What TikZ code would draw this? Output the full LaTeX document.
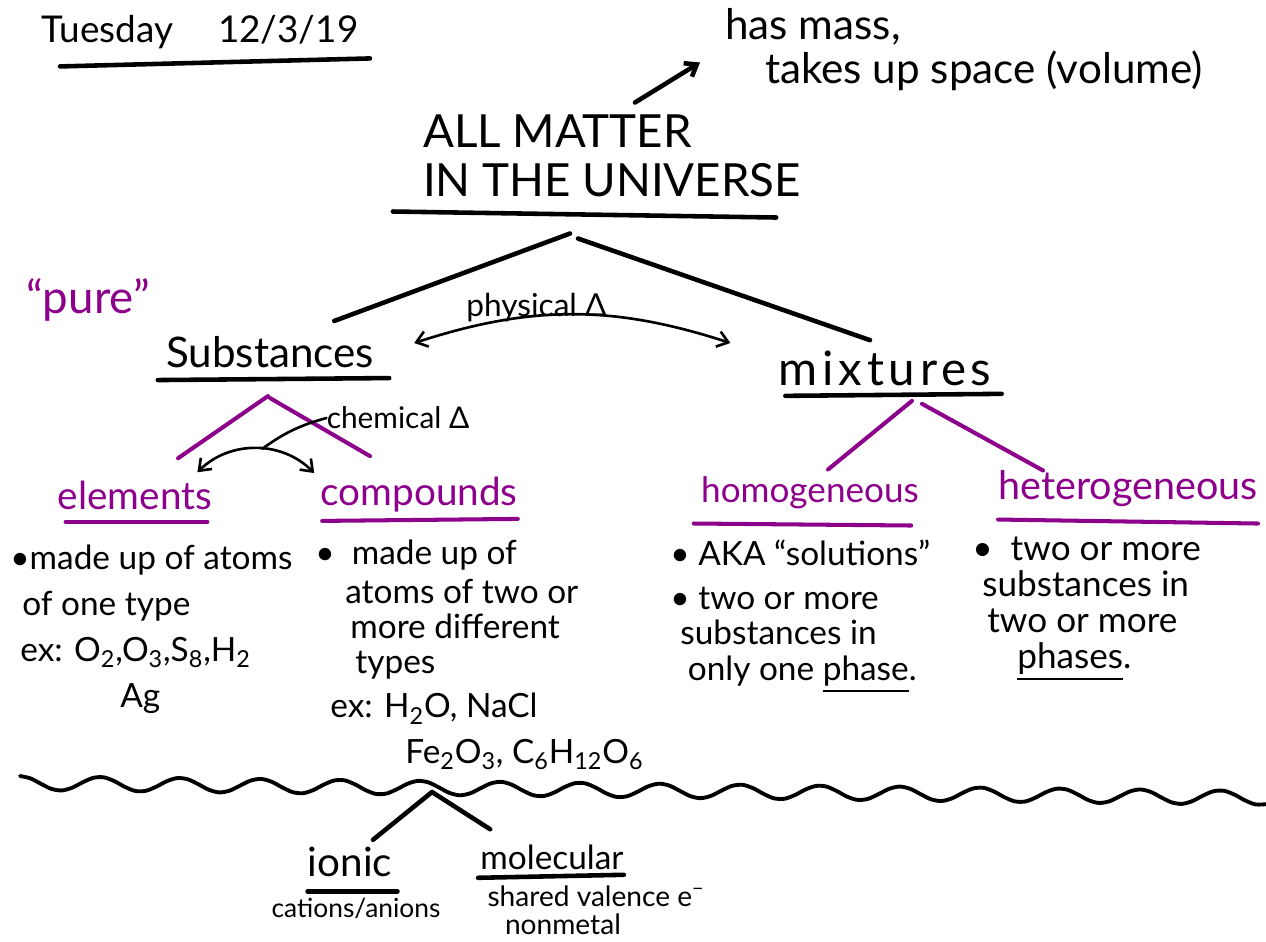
\documentclass[tikz,border=0pt]{standalone}
\usepackage{fontspec}
\setmainfont{Lato}
\usetikzlibrary{arrows.meta,positioning}
\definecolor{plum}{RGB}{140,0,140}
\newcommand{\penline}[1]{\setbox0\hbox{#1}\rlap{\rule[-7pt]{\wd0}{1.6pt}}\box0}
\begin{document}
\begin{tikzpicture}
[x=0.02cm,y=-0.02cm,
 ink/.style={line width=2.6pt,line cap=round,line join=round},
 purp/.style={ink,draw=plum,line width=2.3pt},
 pen/.style={line width=1.5pt,line cap=round},
 dar/.style={pen,{Straight Barb[length=6pt,width=9pt]}-{Straight Barb[length=6pt,width=9pt]}},
 sar/.style={ink,-{Straight Barb[length=6pt,width=9pt]}},
 txt/.style={inner sep=0pt,align=left},
 big/.style={txt,font=\fontsize{26}{28}\selectfont},
 head/.style={txt,font=\fontsize{24}{28}\selectfont},
 sub/.style={txt,text=plum,font=\fontsize{22}{26}\selectfont},
 body/.style={txt,anchor=north west,font=\fontsize{19}{20}\selectfont},
 note/.style={txt,font=\fontsize{18}{20}\selectfont}]
\useasboundingbox (0,0) rectangle (1266,941);

% heading
\node [head,font=\fontsize{21}{24}\selectfont] (day) at (200,32) {Tuesday\hspace{0.9cm}12/3/19};
\draw [ink] ([shift={(-140,24)}]day.base) -- ([shift={(170,16)}]day.base);

\node [big] (univ) at (612,156) {ALL MATTER\\IN THE UNIVERSE};
\draw [ink] ([shift={(-30,14)}]univ.south west) -- ([shift={(-25,20)}]univ.south east);
\node [txt,anchor=north west,font=\fontsize{24}{26}\selectfont] (mass) at (725,8) {has mass,\\[-1pt]\hspace*{0.8cm}takes up space (volume)};
\draw [sar] ([shift={(23,-12)}]univ.north) -- ([shift={(-25,13)}]mass.west);

% first split
\node [head] (subst) at (270,352) {Substances};
\node [head,font=\fontsize{27}{28}\selectfont] (mix) at (885,368) {\addfontfeature{LetterSpace=10}mixtures};
\node [txt,text=plum,font=\fontsize{26}{28}\selectfont] (pure) at (88,300) {“pure”};
\draw [ink] ([shift={(-42,36)}]univ.south) -- ([shift={(-40,-15)}]subst.north east);
\draw [ink] ([shift={(-34,41)}]univ.south) -- ([shift={(-15,-10)}]mix.north);
\draw [ink] ([shift={(-8,12)}]subst.south west) -- ([shift={(15,10)}]subst.south east);
\draw [ink] ([shift={(7,10)}]mix.south west) -- ([shift={(10,8)}]mix.south east);
\draw [dar] ([shift={(40,-9)}]subst.east) to [bend left=18]
  node [note,pos=0.38,above=-4pt] (phys) {physical Δ} ([shift={(-48,-25)}]mix.west);

% pure substances
\node [sub] (elem) at (135,495) {elements};
\node [sub] (comp) at (419,495) {compounds};
\draw [purp] ([shift={(-2,28)}]subst.south) -- ([shift={(43,-22)}]elem.north);
\draw [purp] ([shift={(0,30)}]subst.south) -- ([shift={(-49,-21)}]comp.north);
\draw [purp] ([shift={(8,12)}]elem.south west) -- ([shift={(-5,12)}]elem.south east);
\draw [purp] ([shift={(2,8)}]comp.south west) -- ([shift={(0,6)}]comp.south east);
\draw [dar] ([shift={(-15,-8)}]elem.north east) to [bend left=45]
  coordinate [pos=0.55] (chemmid) ([shift={(-6,-4)}]comp.north west);
\node [note,font=\fontsize{17}{20}\selectfont] (chem) at (398,418) {chemical Δ};
\draw [pen] (chem.west) to [bend right=10] (chemmid);

% mixtures
\node [sub,font=\fontsize{20}{26}\selectfont] (homo) at (810,493) {homogeneous};
\node [sub,font=\fontsize{22.5}{26}\selectfont] (hetero) at (1128,489) {heterogeneous};
\draw [purp] ([shift={(27,15)}]mix.south) -- ([shift={(18,-7)}]homo.north);
\draw [purp] ([shift={(37,18)}]mix.south) -- ([shift={(45,0)}]hetero.north west);
\draw [purp] ([shift={(-7,14)}]homo.south west) -- ([shift={(-8,16)}]homo.south east);
\draw [purp] ([shift={(0,12)}]hetero.south west) -- ([shift={(0,16)}]hetero.south east);

% notes
\node [body] (elemtxt) at (10,545) {\textbullet made up of atoms\\[6pt]
  \hspace*{0.24cm}of one type\\[6pt]
  \hspace*{0.2cm}ex: O\textsubscript{2},O\textsubscript{3},S\textsubscript{8},H\textsubscript{2}\\[6pt]
  \hspace*{2.2cm}Ag};
\node [body] (comptxt) at (315,540) {\textbullet\ \ made up of\\[2pt]
  \hspace*{0.6cm}atoms of two or\\
  \hspace*{0.7cm}more different\\
  \hspace*{0.8cm}types\\[5pt]
  \hspace*{0.3cm}ex: H\textsubscript{2}O, NaCl\\[6pt]
  \hspace*{1.8cm}Fe\textsubscript{2}O\textsubscript{3}, C\textsubscript{6}H\textsubscript{12}O\textsubscript{6}};
\node [body] (homotxt) at (670,540) {\textbullet\ AKA “solutions”\\[5pt]
  \textbullet\ two or more\\
  \hspace*{0.2cm}substances in\\
  \hspace*{0.35cm}only one \penline{phase}.};
\node [body,font=\fontsize{20}{20}\selectfont] (heterotxt) at (972,537) {\textbullet\ \ two or more\\
  \hspace*{0.2cm}substances in\\[1pt]
  \hspace*{0.3cm}two or more\\
  \hspace*{0.9cm}\penline{phases}.};

% compounds split
\draw [ink,line width=2.2pt] plot [smooth,domain=20:1266,samples=120]
  (\x,{783+0.012*(\x-20)+7*sin(4.5*(\x-40))});
\coordinate (fork) at (432,792);
\node [txt,font=\fontsize{23}{26}\selectfont] (ionic) at (350,862) {ionic};
\node [txt,font=\fontsize{19}{22}\selectfont] (molec) at (552,857) {molecular};
\node [note,font=\fontsize{15}{17}\selectfont] (ions) at (356,908) {cations/anions};
\node [note,font=\fontsize{16}{16}\selectfont] (shared) at (596,910) {shared valence e\textsuperscript{−}\\\hspace*{0.35cm}nonmetal};
\draw [ink] (fork) -- ([shift={(23,-7)}]ionic.north);
\draw [ink] (fork) -- ([shift={(10,-15)}]molec.north west);
\draw [ink] ([shift={(0,14)}]ionic.south west) -- ([shift={(5,14)}]ionic.south east);
\draw [ink] ([shift={(-2,8)}]molec.south west) -- ([shift={(0,5)}]molec.south east);
\end{tikzpicture}
\end{document}
